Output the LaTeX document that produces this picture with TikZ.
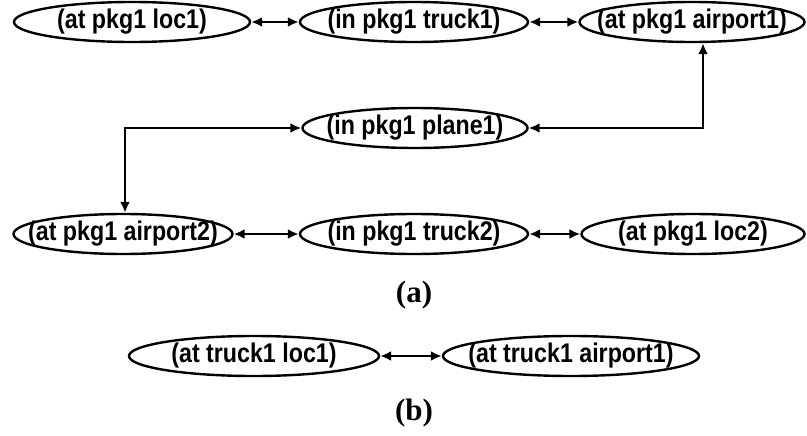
\documentclass[tikz,border=0pt]{standalone}
\usepackage{fontspec}
\setmainfont{Liberation Sans}
\newfontfamily\factfont[FakeStretch=0.86]{Liberation Sans}
\newfontfamily\capfont{Liberation Serif}
\usetikzlibrary{shapes.geometric,arrows.meta}
\newcommand{\facttext}[1]{\makebox[0pt]{#1}}
\begin{document}
\begin{tikzpicture}[x=1pt,y=-1pt,
  fact/.style={ellipse,draw,line width=2.4pt,minimum height=40pt,inner sep=0pt,
    font=\factfont\bfseries\fontsize{27}{29}\selectfont},
  link/.style={line width=2.4pt,{Latex[length=11pt,width=10pt]}-{Latex[length=11pt,width=10pt]}},
  sublabel/.style={font=\capfont\bfseries\fontsize{31}{33}\selectfont}]
\useasboundingbox (0,0) rectangle (807,436);
% package 1: first truck, plane, second truck
\node[fact,minimum width=236pt] (l1)  at (132,22)  {\facttext{(at pkg1 loc1)}};
\node[fact,minimum width=228pt] (t1)  at (414,22)  {\facttext{(in pkg1 truck1)}};
\node[fact,minimum width=225pt] (a1)  at (692,22)  {\facttext{(at pkg1 airport1)}};
\node[fact,minimum width=225pt] (p1)  at (415,128) {\facttext{(in pkg1 plane1)}};
\node[fact,minimum width=219pt] (a2)  at (123,234) {\facttext{(at pkg1 airport2)}};
\node[fact,minimum width=228pt] (t2)  at (414,234) {\facttext{(in pkg1 truck2)}};
\node[fact,minimum width=223pt] (l2)  at (693,234) {\facttext{(at pkg1 loc2)}};
\node[sublabel] (capa) at (414,295) {(a)};
\coordinate (k1) at (703,128);
\coordinate (k2) at (125,128);
\draw[link] (l1) -- (t1);
\draw[link] (t1) -- (a1);
\draw[link] (a2) -- (t2);
\draw[link] (t2) -- (l2);
\draw[link] (a1.south -| k1) -- (k1) -- (p1.east);
\draw[link] (p1.west) -- (k2) -- (a2.north -| k2);
% truck 1 alone
\node[fact,minimum width=250pt] (b1) at (254,356) {\facttext{(at truck1 loc1)}};
\node[fact,minimum width=256pt] (b2) at (571,356) {\facttext{(at truck1 airport1)}};
\node[sublabel] (capb) at (414,413) {(b)};
\draw[link] (b1) -- (b2);
\end{tikzpicture}
\end{document}
